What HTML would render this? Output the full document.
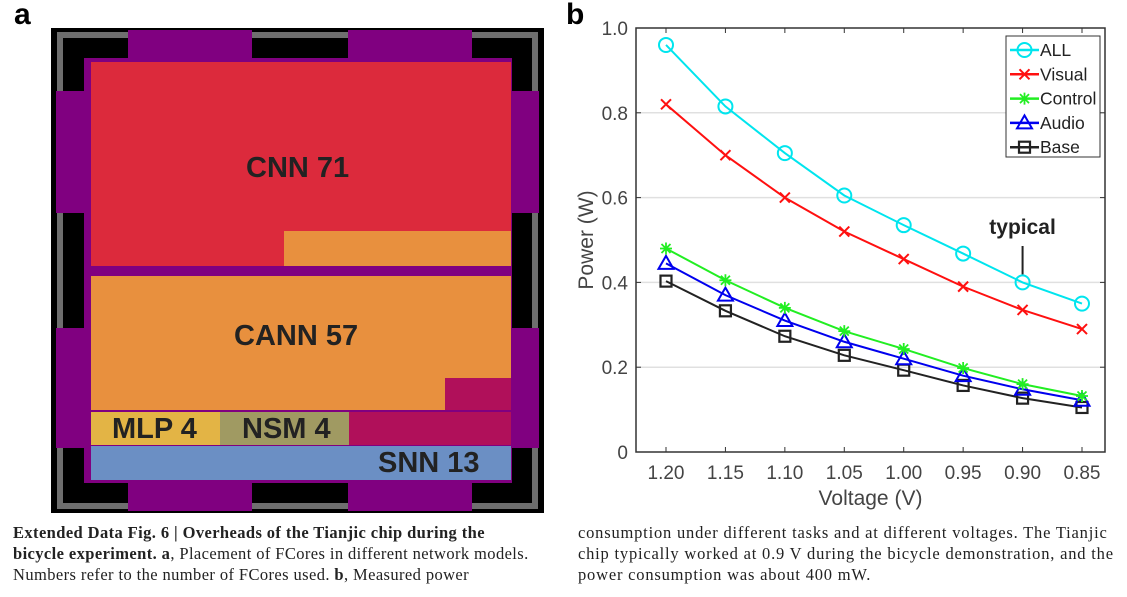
<!DOCTYPE html>
<html><head><meta charset="utf-8"><style>
body{margin:0;width:1127px;height:597px;background:#fff;position:relative;overflow:hidden;font-family:"Liberation Sans",sans-serif}
.abs{position:absolute}
.cap{position:absolute;font-family:"Liberation Serif",serif;font-size:16.5px;line-height:21px;color:#222;white-space:nowrap;transform-origin:0 0}
.lbl{position:absolute;font-weight:bold;color:#222;font-size:29px;white-space:nowrap}
</style></head><body>
<div class="abs" style="left:14px;top:-2px;font-size:30px;font-weight:bold">a</div>
<div class="abs" style="left:566px;top:-2px;font-size:30px;font-weight:bold">b</div>

<div class="abs" style="left:51px;top:28px;width:493px;height:485px;background:#000">
  <div class="abs" style="left:6px;top:4px;width:481px;height:477px;border:6px solid #6e6e6e;box-sizing:border-box"></div>
  <div class="abs" style="left:77px;top:2px;width:124px;height:28px;background:#800080"></div>
  <div class="abs" style="left:297px;top:2px;width:124px;height:28px;background:#800080"></div>
  <div class="abs" style="left:77px;top:455px;width:124px;height:28px;background:#800080"></div>
  <div class="abs" style="left:297px;top:455px;width:124px;height:28px;background:#800080"></div>
  <div class="abs" style="left:5px;top:63px;width:30px;height:122px;background:#800080"></div>
  <div class="abs" style="left:5px;top:300px;width:30px;height:120px;background:#800080"></div>
  <div class="abs" style="left:458px;top:63px;width:30px;height:122px;background:#800080"></div>
  <div class="abs" style="left:458px;top:300px;width:30px;height:120px;background:#800080"></div>
  <div class="abs" style="left:33px;top:30px;width:428px;height:425px;background:#800080"></div>
  <div class="abs" style="left:40px;top:34px;width:420px;height:204px;background:#dc2a3c"></div>
  <div class="abs" style="left:233px;top:203px;width:227px;height:35px;background:#e8903e"></div>
  <div class="abs" style="left:40px;top:248px;width:420px;height:134px;background:#e8903e"></div>
  <div class="abs" style="left:394px;top:350px;width:66px;height:32px;background:#b0105a"></div>
  <div class="abs" style="left:40px;top:384px;width:129px;height:33px;background:#e3b445"></div>
  <div class="abs" style="left:169px;top:384px;width:129px;height:33px;background:#a09a62"></div>
  <div class="abs" style="left:298px;top:384px;width:162px;height:33px;background:#b0105a"></div>
  <div class="abs" style="left:40px;top:418px;width:420px;height:34px;background:#6b8fc4"></div>
</div>
<div class="lbl" style="left:246px;top:152px">CNN 71</div>
<div class="lbl" style="left:234px;top:320px">CANN 57</div>
<div class="lbl" style="left:112px;top:413px">MLP 4</div>
<div class="lbl" style="left:242px;top:413px">NSM 4</div>
<div class="lbl" style="left:378px;top:447px">SNN 13</div>

<svg id="chart" class="abs" style="left:0;top:0" width="1127" height="520"></svg>

<div class="cap" style="left:13px;top:522px;letter-spacing:0.4px"><b>Extended Data Fig. 6 | Overheads of the Tianjic chip during the</b><br><b>bicycle experiment. a</b>, Placement of FCores in different network models.<br>Numbers refer to the number of FCores used. <b>b</b>, Measured power</div>
<div class="cap" style="left:578px;top:522px;letter-spacing:0.8px">consumption under different tasks and at different voltages. The Tianjic<br>chip typically worked at 0.9 V during the bicycle demonstration, and the<br>power consumption was about 400 mW.</div>

<script>
const voltages=["1.20","1.15","1.10","1.05","1.00","0.95","0.90","0.85"];
const yTicks=[0,0.2,0.4,0.6,0.8,1.0];
const yTickLabels=["0","0.2","0.4","0.6","0.8","1.0"];
const allVals=[0.96,0.815,0.705,0.605,0.535,0.468,0.40,0.35];
const visualVals=[0.82,0.70,0.60,0.52,0.455,0.39,0.335,0.29];
const controlVals=[0.48,0.405,0.34,0.285,0.243,0.198,0.16,0.132];
const audioVals=[0.445,0.37,0.31,0.26,0.22,0.18,0.148,0.122];
const baseVals=[0.403,0.333,0.273,0.228,0.193,0.157,0.127,0.105];
const NS="http://www.w3.org/2000/svg";
const svg=document.getElementById('chart');
const L=636,R=1105,T=28,B=452;
const xs=i=>666+i*(1082-666)/(voltages.length-1);
const ys=v=>B-v*(B-T);
function mk(t,a,p){const e=document.createElementNS(NS,t);for(const k in a)e.setAttribute(k,a[k]);(p||svg).appendChild(e);return e;}
yTicks.forEach((v,i)=>{
  if(v>0&&v<1){const g=mk('line',{x1:L,x2:R,y1:ys(v),y2:ys(v),stroke:'#e0e0e0','stroke-width':1.5});
  
  }
  const t=mk('text',{x:L-8,y:ys(v)+7,'text-anchor':'end','font-size':19,fill:'#444','font-family':'Liberation Sans, sans-serif'});
  t.textContent=yTickLabels[i];
  
  
  mk('line',{x1:L,x2:L+5,y1:ys(v),y2:ys(v),stroke:'#333'});
  mk('line',{x1:R,x2:R-5,y1:ys(v),y2:ys(v),stroke:'#333'});
});
voltages.forEach((lab,i)=>{
  mk('line',{x1:xs(i),x2:xs(i),y1:B,y2:B-5,stroke:'#333'});
  mk('line',{x1:xs(i),x2:xs(i),y1:T,y2:T+5,stroke:'#333'});
  const t=mk('text',{x:xs(i),y:B+27,'text-anchor':'middle','font-size':19,fill:'#444','font-family':'Liberation Sans, sans-serif'});
  t.textContent=lab;
  
  
});
const fr=mk('rect',{x:L,y:T,width:R-L,height:B-T,fill:'none',stroke:'#333','stroke-width':1.5});


const xt=mk('text',{x:(L+R)/2,y:505,'text-anchor':'middle','font-size':21,fill:'#444','font-family':'Liberation Sans, sans-serif'});
xt.textContent='Voltage (V)';


const yt=mk('text',{x:0,y:0,'text-anchor':'middle','font-size':21,fill:'#444','font-family':'Liberation Sans, sans-serif',transform:'translate(593,240) rotate(-90)'});
yt.textContent='Power (W)';


function marker(type,x,y,c,g){
  const s=6.5;
  if(type==='o')mk('circle',{cx:x,cy:y,r:7,fill:'none',stroke:c,'stroke-width':2},g);
  else if(type==='x'){mk('path',{d:`M${x-5},${y-5}L${x+5},${y+5}M${x-5},${y+5}L${x+5},${y-5}`,stroke:c,'stroke-width':2},g);}
  else if(type==='*'){mk('path',{d:`M${x-6},${y}L${x+6},${y}M${x},${y-6}L${x},${y+6}M${x-4.5},${y-4.5}L${x+4.5},${y+4.5}M${x-4.5},${y+4.5}L${x+4.5},${y-4.5}`,stroke:c,'stroke-width':1.8},g);}
  else if(type==='^')mk('path',{d:`M${x},${y-s-1}L${x+s+1},${y+s-1}L${x-s-1},${y+s-1}Z`,fill:'none',stroke:c,'stroke-width':2},g);
  else if(type==='s')mk('rect',{x:x-s+1,y:y-s+1,width:2*s-2,height:2*s-2,fill:'none',stroke:c,'stroke-width':2.2},g);
}
const series=[["ALL",allVals,'#00e5ee','o'],["Visual",visualVals,'#ff1010','x'],["Control",controlVals,'#22ee22','*'],["Audio",audioVals,'#0000ee','^'],["Base",baseVals,'#222','s']];
series.slice().reverse().forEach(([name,vals,c,m])=>{
  const g=mk('g',{});
  
  
  mk('polyline',{points:vals.map((v,i)=>xs(i)+','+ys(v)).join(' '),fill:'none',stroke:c,'stroke-width':2},g);
  vals.forEach((v,i)=>marker(m,xs(i),ys(v),c,g));
});
const an=mk('g',{});


const at=mk('text',{x:xs(6),y:234,'text-anchor':'middle','font-size':21,'font-weight':'bold',fill:'#222','font-family':'Liberation Sans, sans-serif'},an);
at.textContent='typical';
mk('line',{x1:xs(6),x2:xs(6),y1:246,y2:ys(allVals[6])-8,stroke:'#222','stroke-width':2},an);
const lg=mk('g',{});


mk('rect',{x:1006,y:36,width:94,height:121,fill:'#fff',stroke:'#333','stroke-width':1},lg);
series.forEach(([name,vals,c,m],i)=>{
  const y=50+i*24.3;
  const e=mk('g',{},lg);
  
  
  mk('line',{x1:1010,x2:1039,y1:y,y2:y,stroke:c,'stroke-width':2.5},e);
  marker(m,1024.5,y,c,e);
  const t=mk('text',{x:1040,y:y+6,'font-size':17.5,fill:'#222','font-family':'Liberation Sans, sans-serif'},e);
  t.textContent=name;
});
</script>
</body></html>
